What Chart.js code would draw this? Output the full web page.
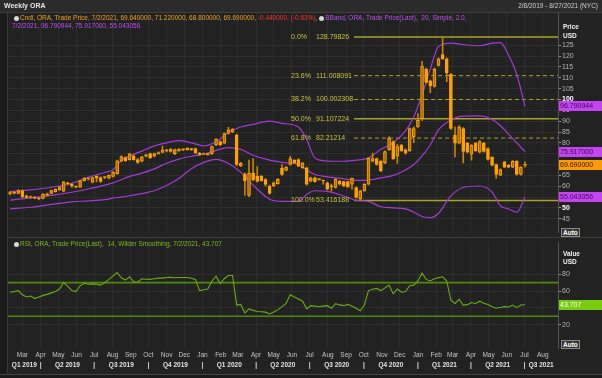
<!DOCTYPE html>
<html>
<head>
<meta charset="utf-8">
<script src="https://cdn.jsdelivr.net/npm/chart.js@4.4.1/dist/chart.umd.min.js"></script>
<style>
  body { margin: 0; width: 602px; height: 378px; overflow: hidden; position: relative;
         background: #1a1a1a; font-family: "Liberation Sans", Arial, sans-serif; }
  .box { position: absolute; }
  canvas { position: absolute; left: 0; }
  .txt { position: absolute; white-space: pre; font-size: 6.5px; line-height: 8px; z-index: 5; }
  .ico { display: inline-block; width: 5px; height: 5px; border-radius: 50%; background: #d8d8d8;
         margin-right: 1px; vertical-align: -0.5px; }
  .auto { position: absolute; z-index: 5; font-size: 6.5px; line-height: 7px; color: #fff;
          border: 1px solid #8a8a8a; background: #333; padding: 0 1px; font-weight: bold; }
</style>
</head>
<body>
<div class="box" style="left:0;top:0;width:602px;height:12px;background:#2b2b2b;border-bottom:1px solid #3e3e3e"></div>
<div class="box" style="left:7px;top:13px;width:595px;height:224px;background:#222;border-left:1px solid #3a3a3a"></div>
<div class="box" style="left:7px;top:237px;width:595px;height:1px;background:#3c3c3c"></div>
<div class="box" style="left:7px;top:238px;width:595px;height:136px;background:#222;border-left:1px solid #3a3a3a"></div>
<div class="box" style="left:0;top:374px;width:602px;height:1px;background:#444"></div>

<canvas id="graficaPrecio" width="602" height="238" style="top:0"></canvas>
<canvas id="graficaRsi" width="602" height="141" style="top:237px"></canvas>

<div class="txt" style="left:4px;top:2px;color:#e6e6e6;font-weight:bold;font-size:7px">Weekly ORA</div>
<div class="txt" style="right:4px;top:2px;color:#d0d0d0">2/8/2019 - 8/27/2021 (NYC)</div>
<div class="txt" style="left:14px;top:14px"><span class="ico"></span><span style="color:#f0a020">Cndl, ORA, Trade Price, 7/2/2021, 69.640000, 71.220000, 68.800000, 69.690000, </span><span style="color:#ff3030">-0.440000, (-0.63%)</span><span style="color:#f0a020">, </span><span class="ico"></span><span style="color:#c04ef0">BBand, ORA, Trade Price(Last),  20, Simple, 2.0,</span></div>
<div class="txt" style="left:12px;top:22px;color:#c04ef0">7/2/2021, 96.790944, 75.917000, 55.043056</div>
<div class="txt" style="left:563px;top:23px;color:#f0f0f0;font-weight:bold">Price</div>
<div class="txt" style="left:563px;top:32px;color:#f0f0f0;font-weight:bold">USD</div>
<div class="auto" style="left:561px;top:228px">Auto</div>

<div class="txt" style="left:14px;top:240px"><span class="ico"></span><span style="color:#78b81e">RSI, ORA, Trade Price(Last),  14, Wilder Smoothing, 7/2/2021, 43.707</span></div>
<div class="txt" style="left:563px;top:250px;color:#f0f0f0;font-weight:bold">Value</div>
<div class="txt" style="left:563px;top:258px;color:#f0f0f0;font-weight:bold">USD</div>
<div class="auto" style="left:561px;top:340px">Auto</div>

<script>
// Velas semanales de ORA, 2/8/2019 -> 7/2/2021 (semana 0 = 2/8/2019)
const opens = [56.5, 57.0, 56.7, 58.0, 55.5, 54.8, 55.0, 54.5, 54.4, 55.8,
  56.7, 57.5, 58.4, 57.7, 61.5, 61.0, 60.0, 59.6, 62.6, 63.3,
  61.8, 64.5, 64.0, 64.0, 63.7, 64.5, 65.8, 71.5, 73.2, 72.2,
  74.0, 72.3, 71.5, 73.8, 75.0, 73.8, 75.0, 75.6, 76.8, 76.0,
  75.0, 76.3, 77.0, 76.8, 77.3, 77.3, 75.3, 74.8, 75.0, 75.0,
  79.0, 80.6, 79.8, 84.3, 85.0, 83.5, 69.5, 65.6, 55.8, 66.0,
  64.5, 64.5, 63.0, 60.1, 60.1, 61.2, 68.2, 67.3, 70.0, 72.0,
  72.3, 68.5, 68.5, 62.4, 63.9, 63.0, 62.6, 61.6, 59.9, 59.4,
  62.4, 62.1, 62.1, 60.9, 59.4, 54.1, 57.9, 60.9, 71.5, 72.7,
  71.5, 70.7, 76.8, 80.6, 73.8, 79.0, 76.8, 76.3, 82.9, 87.4,
  91.2, 113.9, 108.6, 106.0, 115.7, 120.7, 118.8, 111.6, 83.6, 79.8,
  86.6, 79.8, 74.8, 79.8, 75.7, 79.8, 77.3, 73.3, 70.0, 65.1,
  71.2, 69.7, 68.8, 71.5, 65.4, 69.64];
const highs = [57.6, 57.5, 58.4, 58.3, 55.9, 55.4, 55.2, 54.8, 56.6, 56.8,
  58.2, 58.8, 59.9, 62.3, 61.8, 61.3, 60.2, 62.8, 64.0, 64.0,
  64.3, 64.8, 64.3, 64.6, 65.3, 66.7, 72.0, 74.0, 73.5, 75.2,
  74.3, 72.8, 73.8, 74.8, 75.3, 75.3, 75.8, 78.5, 77.0, 77.3,
  77.2, 77.3, 77.2, 77.8, 77.5, 77.6, 75.6, 75.3, 75.2, 78.6,
  82.0, 80.9, 84.6, 87.2, 86.6, 84.0, 71.0, 66.2, 72.0, 72.7,
  69.0, 65.0, 63.5, 60.5, 62.0, 63.5, 70.0, 69.0, 73.8, 72.3,
  72.6, 71.0, 68.8, 64.2, 64.2, 63.5, 62.8, 61.9, 61.0, 63.5,
  62.7, 62.4, 62.4, 63.9, 59.7, 58.2, 61.2, 73.3, 75.3, 73.0,
  71.8, 76.3, 82.9, 80.9, 79.3, 79.3, 77.2, 86.9, 87.4, 93.5,
  117.6, 114.5, 109.0, 114.5, 119.2, 128.8, 119.2, 112.0, 87.4, 88.0,
  87.0, 80.2, 79.2, 80.2, 81.0, 80.2, 77.7, 73.6, 70.3, 68.0,
  71.5, 70.0, 71.8, 71.8, 69.1, 71.22];
const lows = [56.0, 56.3, 56.4, 54.7, 54.6, 54.5, 54.2, 53.8, 54.1, 55.5,
  56.4, 57.2, 58.1, 57.4, 60.7, 59.4, 59.3, 59.3, 62.3, 62.8,
  61.5, 62.0, 61.7, 63.5, 63.4, 64.2, 65.5, 71.2, 71.4, 72.0,
  72.0, 70.5, 71.2, 73.5, 72.8, 73.5, 74.8, 75.3, 75.8, 75.7,
  74.5, 76.0, 76.4, 76.5, 76.5, 75.0, 74.2, 74.6, 74.3, 74.7,
  78.7, 78.8, 79.5, 84.0, 84.7, 69.5, 69.0, 55.7, 55.2, 62.5,
  62.0, 62.3, 60.0, 56.3, 59.8, 60.9, 65.0, 67.0, 69.7, 70.4,
  69.0, 68.2, 60.5, 62.0, 61.8, 62.8, 60.9, 58.3, 57.7, 59.1,
  60.6, 59.8, 59.4, 58.6, 54.5, 53.4, 57.6, 60.6, 71.2, 69.7,
  66.7, 70.4, 76.5, 72.4, 70.5, 76.0, 74.7, 76.0, 80.1, 87.1,
  90.4, 107.5, 103.2, 105.7, 115.4, 118.5, 108.2, 86.2, 73.5, 79.5,
  70.7, 75.4, 72.0, 76.0, 75.4, 75.7, 72.0, 69.4, 63.6, 64.8,
  68.5, 68.5, 68.5, 65.1, 65.1, 68.8];
const closes = [57.0, 56.8, 58.0, 55.2, 54.8, 55.0, 54.5, 54.2, 56.3, 56.5,
  58.0, 58.6, 59.6, 62.0, 61.1, 60.2, 59.6, 62.5, 63.7, 63.5,
  64.0, 63.7, 62.2, 64.2, 65.0, 66.4, 71.7, 73.7, 71.7, 74.9,
  72.2, 71.0, 73.5, 74.5, 73.0, 75.0, 75.3, 76.8, 76.3, 77.0,
  76.8, 77.0, 76.8, 77.5, 76.8, 75.3, 74.5, 75.0, 74.5, 78.3,
  81.7, 79.0, 84.3, 86.0, 86.2, 70.0, 70.6, 62.6, 66.0, 63.0,
  62.2, 62.6, 60.8, 56.7, 61.6, 63.2, 65.4, 68.8, 72.7, 70.7,
  69.2, 70.7, 60.9, 63.9, 62.1, 63.2, 62.4, 58.6, 59.7, 63.2,
  60.9, 60.1, 59.7, 63.6, 54.8, 57.9, 60.9, 73.0, 72.7, 70.0,
  67.0, 76.0, 82.1, 72.7, 78.3, 76.3, 75.3, 86.6, 86.6, 90.4,
  115.4, 107.9, 106.3, 113.9, 118.8, 118.8, 112.4, 86.6, 79.8, 87.4,
  76.0, 75.7, 78.8, 76.3, 80.6, 76.0, 72.3, 69.7, 65.4, 67.7,
  68.8, 68.8, 71.5, 65.4, 68.8, 69.69];
const semanas = closes.map((c, i) => i);

// Bandas de Bollinger (20, 2.0)
const bandWeeks = [0, 5, 10, 15, 19, 23, 25, 27, 29, 32, 35, 38, 41, 44, 47, 50, 53, 56, 59, 63,
  66, 70, 72, 74, 77, 81, 84, 87, 90, 93, 96, 98, 100, 102, 104, 107, 110, 114, 117, 119, 121, 123, 125];
const bandUpper = [57.5, 58.3, 59.5, 61.3, 64.2, 66.3, 67.6, 71.8, 74.0, 76.2, 78.6, 80.0, 81.0, 80.0, 78.6,
  80.5, 84.8, 87.3, 88.5, 90.0, 89.0, 87.3, 81.5, 73.0, 71.6, 71.5, 72.0, 73.0, 77.0, 80.0,
  85.5, 92.0, 102.0, 114.0, 124.5, 126.0, 125.3, 124.8, 126.0, 126.2, 120.5, 111.5, 96.790944];
const bandMiddle = [53.6, 54.6, 55.8, 57.2, 58.7, 60.5, 61.5, 63.0, 64.5, 66.0, 68.0, 70.6, 72.5, 73.8, 74.8,
  76.5, 77.8, 77.0, 74.3, 72.0, 71.0, 70.0, 67.5, 65.4, 64.3, 63.4, 62.7, 62.8, 63.8, 65.0,
  67.5, 70.0, 74.0, 79.0, 86.0, 90.5, 92.3, 92.4, 90.8, 88.0, 84.0, 80.0, 75.917];
const bandLower = [49.5, 50.3, 51.6, 52.8, 53.2, 53.8, 54.5, 55.0, 55.6, 56.6, 57.9, 60.3, 63.5, 68.0, 71.0,
  72.4, 70.5, 66.5, 60.5, 54.0, 53.0, 53.0, 56.2, 57.9, 57.6, 55.5, 53.5, 53.0, 50.5, 50.0,
  49.5, 48.0, 46.0, 45.5, 47.5, 55.5, 59.4, 60.1, 57.3, 51.0, 49.5, 48.0, 55.043056];

// RSI 14 semanal
const rsiValues = [58.6, 59.3, 60.5, 55.5, 52.9, 54.0, 51.0, 52.9, 54.8, 56.0,
  57.8, 59.5, 62.4, 70.0, 65.4, 60.5, 59.3, 66.2, 69.2, 68.1,
  68.5, 68.1, 67.0, 70.0, 73.8, 78.0, 82.0, 75.7, 73.0, 77.0,
  70.8, 70.8, 74.6, 74.0, 73.8, 74.5, 75.3, 75.3, 76.1, 76.3,
  75.8, 76.1, 76.0, 76.1, 75.2, 73.8, 60.5, 61.5, 62.4, 71.9,
  77.6, 68.9, 74.6, 78.4, 78.4, 43.3, 44.1, 33.8, 38.8, 37.0,
  35.7, 35.3, 34.9, 32.7, 35.0, 37.6, 41.5, 45.2, 55.5, 52.9,
  50.5, 47.9, 38.8, 42.6, 42.0, 41.4, 42.0, 42.6, 39.5, 44.9,
  43.5, 42.6, 44.1, 42.0, 39.5, 36.5, 43.3, 60.5, 62.0, 63.1,
  60.5, 63.5, 67.0, 56.7, 62.4, 58.6, 59.3, 66.2, 67.0, 71.9,
  81.4, 73.8, 71.9, 74.5, 75.7, 76.9, 71.9, 49.0, 45.2, 50.2,
  43.3, 43.8, 46.4, 45.2, 47.9, 45.5, 44.1, 41.4, 39.5, 40.5,
  41.4, 41.0, 43.3, 40.3, 43.3, 43.707];
const rsiBands = [70, 30];

// Retroceso de Fibonacci
const fibPct = ["0.0%", "23.6%", "38.2%", "50.0%", "61.8%", "100.0%"];
const fibLevels = [128.79826, 111.008091, 100.002308, 91.107224, 82.21214, 53.416188];
const fibText = ["128.79826", "111.008091", "100.002308", "91.107224", "82.21214", "53.416188"];
const fibDashed = [false, true, true, false, true, false];
const fibStartWeek = 83.5;

// Eje X: meses y trimestres (en semanas desde 2/8/2019)
const monthNames = ["Mar", "Apr", "May", "Jun", "Jul", "Aug", "Sep", "Oct", "Nov", "Dec",
  "Jan", "Feb", "Mar", "Apr", "May", "Jun", "Jul", "Aug", "Sep", "Oct", "Nov", "Dec",
  "Jan", "Feb", "Mar", "Apr", "May", "Jun", "Jul", "Aug"];
const monthWeeks = [3, 7.43, 11.71, 16.14, 20.43, 24.86, 29.29, 33.57, 38, 42.29,
  46.71, 51.14, 55.29, 59.71, 64, 68.43, 72.71, 77.14, 81.57, 85.86, 90.29, 94.57,
  99, 103.43, 107.43, 111.86, 116.14, 120.57, 124.86, 129.29];
const quarterNames = ["Q1 2019", "Q2 2019", "Q3 2019", "Q4 2019", "Q1 2020", "Q2 2020",
  "Q3 2020", "Q4 2020", "Q1 2021", "Q2 2021", "Q3 2021"];
const quarterEdges = [-0.5, 7.43, 20.43, 33.57, 46.71, 59.71, 72.71, 85.86, 99, 111.86, 124.86, 133];

const priceTicks = [45, 50, 55, 60, 65, 70, 75, 80, 85, 90, 95, 100, 105, 110, 115, 120, 125];
const rsiTicks = [20, 40, 60, 80];

const naranja = "#ffa200";
const morado = "#a43ad8";
const oliva = "#aaa426";
const verde = "#6aad12";
const fuente = '"Liberation Sans", Arial, sans-serif';

/* EJE X COMPARTIDO */
function ejeX(alto) {
  return {
    type: "linear", min: -0.5, max: 133, offset: false,
    afterBuildTicks: s => { s.ticks = monthWeeks.map(v => ({ value: v })); },
    afterFit: s => { s.height = alto; },
    ticks: { display: false },
    grid: { color: "#2d2d2d", drawTicks: false, offset: false },
    border: { display: false }
  };
}

function ejeY(min, max, ticks, fuerte) {
  const esFuerte = c => !!(c.tick && fuerte.includes(c.tick.value));
  return {
    position: "right", min: min, max: max,
    afterBuildTicks: s => { s.ticks = ticks.map(v => ({ value: v })); },
    afterFit: s => { s.width = 44; },
    grid: { color: "#2d2d2d", tickColor: "#9a9a9a", tickLength: 3 },
    border: { color: "#555" },
    ticks: {
      padding: 1,
      color: c => esFuerte(c) ? "#ffffff" : "#b4b4b4",
      font: c => ({ family: fuente, size: 7, weight: esFuerte(c) ? "bold" : "normal" })
    }
  };
}

/* ETIQUETAS FIBONACCI */
const fibEtiquetas = {
  id: "fibEtiquetas",
  afterDatasetsDraw(chart) {
    const ctx = chart.ctx;
    const x0 = chart.scales.x.getPixelForValue(fibStartWeek);
    ctx.save();
    ctx.font = "7px " + fuente;
    ctx.fillStyle = "#c8c13c";
    ctx.textBaseline = "middle";
    fibLevels.forEach((v, i) => {
      const y = chart.scales.y.getPixelForValue(v);
      ctx.fillText(fibPct[i], x0 - 63, y);
      ctx.fillText(fibText[i], x0 - 38, y);
    });
    ctx.restore();
  }
};

function cajaValor(chart, valor, texto, fondo, color) {
  const ctx = chart.ctx;
  const y = chart.scales.y.getPixelForValue(valor);
  const x = chart.chartArea.right + 1;
  ctx.fillStyle = fondo;
  ctx.fillRect(x, Math.round(y) - 5, 602 - x, 10);
  ctx.fillStyle = color;
  ctx.font = "7px " + fuente;
  ctx.textBaseline = "middle";
  ctx.textAlign = "left";
  ctx.fillText(texto, x + 1, Math.round(y) + 0.5);
}

const cajasPrecio = {
  id: "cajasPrecio",
  afterDraw(chart) {
    chart.ctx.save();
    cajaValor(chart, bandUpper[bandUpper.length - 1], "96.790944", "#c544f2", "#3c0a50");
    cajaValor(chart, bandMiddle[bandMiddle.length - 1], "75.917000", "#c544f2", "#3c0a50");
    cajaValor(chart, closes[closes.length - 1], "69.690000", "#ff9a00", "#2a1a00");
    cajaValor(chart, bandLower[bandLower.length - 1], "55.043056", "#c544f2", "#3c0a50");
    chart.ctx.restore();
  }
};

const etiquetasX = {
  id: "etiquetasX",
  afterDraw(chart) {
    const ctx = chart.ctx, x = chart.scales.x;
    const base = chart.chartArea.bottom;
    ctx.save();
    ctx.textAlign = "center";
    ctx.textBaseline = "middle";
    ctx.font = "6.5px " + fuente;
    ctx.fillStyle = "#c4c4c4";
    monthWeeks.forEach((w, i) => ctx.fillText(monthNames[i], x.getPixelForValue(w), base + 7));
    ctx.font = "bold 6.5px " + fuente;
    ctx.fillStyle = "#e2e2e2";
    quarterNames.forEach((q, i) => {
      const c = (quarterEdges[i] + quarterEdges[i + 1]) / 2;
      ctx.fillText(q, x.getPixelForValue(c), base + 17);
      if (i > 0) ctx.fillText("|", x.getPixelForValue(quarterEdges[i]), base + 17);
    });
    ctx.restore();
    chart.ctx.save();
    cajaValor(chart, rsiValues[rsiValues.length - 1], "43.707", "#79cc10", "#ffffff");
    chart.ctx.restore();
  }
};

/* GRÁFICA DE PRECIO */
const datasetsFib = fibLevels.map((v, i) => ({
  type: "line",
  data: [{ x: fibStartWeek, y: v }, { x: 133, y: v }],
  borderColor: oliva,
  borderWidth: fibDashed[i] ? 1 : 1.6,
  borderDash: fibDashed[i] ? [4, 3] : [],
  pointRadius: 0,
  order: 4
}));

function banda(valores) {
  return {
    type: "line",
    data: bandWeeks.map((w, i) => ({ x: w, y: valores[i] })),
    borderColor: morado,
    borderWidth: 1.2,
    pointRadius: 0,
    cubicInterpolationMode: "monotone",
    order: 3
  };
}

new Chart(document.getElementById("graficaPrecio"), {
  type: "bar",
  data: {
    datasets: [
      {
        data: semanas.map(i => ({ x: i, y: [opens[i], closes[i]] })),
        backgroundColor: c => closes[c.dataIndex] >= opens[c.dataIndex] ? "rgba(120,75,0,0.55)" : naranja,
        borderColor: naranja,
        borderWidth: 1,
        borderSkipped: false,
        barThickness: 3,
        minBarLength: 1,
        grouped: false,
        order: 0
      },
      {
        data: semanas.map(i => ({ x: i, y: [lows[i], highs[i]] })),
        backgroundColor: "#c68400",
        barThickness: 1,
        grouped: false,
        order: 1
      },
      banda(bandUpper),
      banda(bandMiddle),
      banda(bandLower),
      ...datasetsFib
    ]
  },
  options: {
    responsive: false,
    animation: false,
    layout: { padding: { left: 8, top: 13, right: 0, bottom: 2 } },
    plugins: { legend: { display: false }, tooltip: { enabled: false } },
    scales: {
      x: ejeX(0),
      y: ejeY(38.5, 139.9, priceTicks, [50, 100])
    }
  },
  plugins: [fibEtiquetas, cajasPrecio]
});

/* GRÁFICA RSI */
new Chart(document.getElementById("graficaRsi"), {
  type: "line",
  data: {
    datasets: [
      {
        data: semanas.map(i => ({ x: i, y: rsiValues[i] })),
        borderColor: verde,
        borderWidth: 1.1,
        pointRadius: 0,
        order: 0
      },
      ...rsiBands.map(v => ({
        data: [{ x: -0.5, y: v }, { x: 133, y: v }],
        borderColor: "#4d8a0c",
        borderWidth: 1.6,
        pointRadius: 0,
        order: 1
      }))
    ]
  },
  options: {
    responsive: false,
    animation: false,
    layout: { padding: { left: 8, top: 1, right: 0, bottom: 0 } },
    plugins: { legend: { display: false }, tooltip: { enabled: false } },
    scales: {
      x: ejeX(30),
      y: ejeY(-7.7, 118, rsiTicks, [])
    }
  },
  plugins: [etiquetasX]
});
</script>
</body>
</html>
